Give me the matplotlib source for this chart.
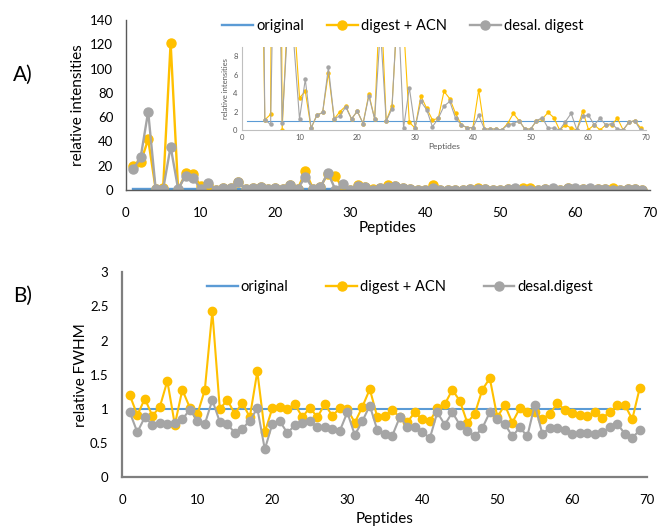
import matplotlib
matplotlib.use("Agg")
import matplotlib.pyplot as plt
import numpy as np

plt.rcParams["font.family"] = ["Lato", "DejaVu Sans"]

BLUE = "#5B9BD5"
YELLOW = "#FFC000"
GRAY = "#A5A5A5"

peptides = np.arange(1, 70)

# A) relative intensities
int_original = [1.0] * 69
int_acn = [20.0, 22.8, 41.7, 1.1, 1.7, 121.4, 0.0, 13.7, 12.9, 3.5,
           4.2, 0.2, 1.6, 1.9, 6.2, 1.2, 2.0, 2.6, 1.2, 2.05,
           0.7, 3.9, 1.2, 15.6, 1.0, 2.6, 13.5, 11.5, 0.84, 0.2,
           3.7, 2.35, 1.1, 1.25, 4.2, 3.4, 1.8, 0.55, 0.25, 0.25,
           4.35, 0.1, 0.1, 0.1, 0.0, 0.7, 1.8, 1.0, 0.1, 0.1,
           1.0, 1.2, 1.9, 1.35, 0.0, 0.55, 0.2, 0.0, 2.05, 0.05,
           0.55, 0.0, 0.55, 0.55, 1.27, 0.0, 0.85, 1.0, 0.25]
int_desal = [17.0, 26.9, 64.5, 1.1, 0.6, 35.7, 0.8, 11.8, 9.6, 1.2,
             5.5, 0.2, 1.6, 1.9, 6.8, 1.2, 1.55, 2.5, 1.2, 2.05,
             0.7, 3.7, 1.2, 11.0, 0.95, 2.3, 14.3, 0.2, 4.6, 0.25,
             3.1, 2.2, 0.35, 1.25, 2.6, 3.1, 1.27, 0.55, 0.25, 0.25,
             1.6, 0.1, 0.1, 0.1, 0.0, 0.55, 0.7, 1.0, 0.1, 0.1,
             1.0, 1.35, 0.2, 0.2, 0.0, 0.9, 1.8, 0.0, 1.5, 1.6,
             0.55, 1.27, 0.55, 0.7, 0.1, 0.0, 0.85, 1.0, 0.0]

# B) relative FWHM
fwhm_original = [1.0] * 69
fwhm_acn = [1.20, 0.91, 1.15, 0.90, 1.03, 1.41, 0.77, 1.28, 1.02, 0.92,
            1.28, 2.43, 1.00, 1.13, 0.93, 1.09, 0.88, 1.55, 0.66, 1.01,
            1.03, 1.00, 1.07, 0.88, 1.02, 0.88, 1.07, 0.90, 1.01, 1.00,
            0.80, 1.03, 1.29, 0.88, 0.90, 0.98, 0.88, 0.81, 0.95, 0.85,
            0.82, 1.01, 1.07, 1.28, 1.12, 0.80, 0.93, 1.28, 1.45, 0.88,
            1.06, 0.80, 1.01, 0.95, 0.95, 0.85, 0.93, 1.08, 0.99, 0.94,
            0.91, 0.89, 0.95, 0.87, 0.95, 1.06, 1.06, 0.85, 1.31]
fwhm_desal = [0.95, 0.66, 0.88, 0.77, 0.79, 0.78, 0.79, 0.85, 0.99, 0.83,
              0.78, 1.13, 0.81, 0.78, 0.65, 0.71, 0.83, 1.01, 0.41, 0.78,
              0.82, 0.65, 0.76, 0.80, 0.82, 0.73, 0.73, 0.71, 0.68, 0.95,
              0.62, 0.82, 1.05, 0.69, 0.64, 0.61, 0.88, 0.74, 0.73, 0.67,
              0.57, 0.95, 0.77, 0.95, 0.77, 0.68, 0.60, 0.72, 0.95, 0.86,
              0.78, 0.60, 0.73, 0.60, 1.06, 0.64, 0.72, 0.72, 0.69, 0.63,
              0.65, 0.65, 0.63, 0.66, 0.73, 0.78, 0.64, 0.58, 0.69]


def style_axes(ax, spine_color, spine_width):
    for side in ("top", "right"):
        ax.spines[side].set_visible(False)
    for side in ("left", "bottom"):
        ax.spines[side].set_color(spine_color)
        ax.spines[side].set_linewidth(spine_width)
    ax.tick_params(length=0)


def draw_series(ax, orig, acn, desal, lw, ms):
    ax.plot(peptides, orig, color=BLUE, linewidth=lw, label="original")
    ax.plot(peptides, acn, color=YELLOW, linewidth=lw, marker="o",
            markersize=ms, label="digest + ACN")
    ax.plot(peptides, desal, color=GRAY, linewidth=lw, marker="o",
            markersize=ms, label="desal. digest")


fig = plt.figure(figsize=(6.57, 5.26), dpi=100)

# panel A
ax_a = fig.add_axes([0.1913, 0.6388, 0.798, 0.3232])
draw_series(ax_a, int_original, int_acn, int_desal, 1.7, 6.5)
ax_a.set_xlim(0, 70)
ax_a.set_ylim(0, 140)
ax_a.set_xticks(range(0, 71, 10))
ax_a.set_yticks(range(0, 141, 20))
ax_a.tick_params(labelsize=9.5)
ax_a.tick_params(axis="x", pad=12)
ax_a.tick_params(axis="y", pad=9)
style_axes(ax_a, "#595959", 1.0)
ax_a.set_xlabel("Peptides", fontsize=11, labelpad=2)
ax_a.set_ylabel("relative intensities", fontsize=11, labelpad=4)
handles, labels = ax_a.get_legend_handles_labels()
fig.legend(handles, ["original", "digest + ACN", "desal. digest"],
           loc="center", bbox_to_anchor=(0.613, 0.950), ncol=3,
           frameon=False, fontsize=10.5, handlelength=2.1,
           handletextpad=0.2, columnspacing=1.6)

# inset zoom of low intensities
ax_in = fig.add_axes([0.3679, 0.7529, 0.6158, 0.1574])
draw_series(ax_in, int_original, int_acn, int_desal, 0.8, 2.2)
ax_in.set_xlim(0, 70)
ax_in.set_ylim(0, 9)
ax_in.set_xticks(range(0, 71, 10))
ax_in.set_yticks(range(0, 9, 2))
ax_in.tick_params(labelsize=5.5, pad=3, colors="#595959")
style_axes(ax_in, "#BFBFBF", 0.8)
ax_in.set_xlabel("Peptides", fontsize=6, labelpad=1, color="#595959")
ax_in.set_ylabel("relative intensities", fontsize=5.5, labelpad=3,
                 color="#595959")

# panel B
ax_b = fig.add_axes([0.1862, 0.0926, 0.799, 0.3897])
draw_series(ax_b, fwhm_original, fwhm_acn, fwhm_desal, 1.5, 6.0)
ax_b.set_xlim(0, 70)
ax_b.set_ylim(0, 3)
ax_b.set_xticks(range(0, 71, 10))
ax_b.set_yticks(np.arange(0, 3.01, 0.5))
ax_b.set_yticklabels(["0", "0.5", "1", "1.5", "2", "2.5", "3"])
ax_b.tick_params(labelsize=9.5)
ax_b.tick_params(axis="x", pad=12)
ax_b.tick_params(axis="y", pad=10)
style_axes(ax_b, "#7F7F7F", 1.6)
ax_b.set_xlabel("Peptides", fontsize=11, labelpad=4)
ax_b.set_ylabel("relative FWHM", fontsize=11, labelpad=1)
fig.legend(handles, ["original", "digest + ACN", "desal.digest"],
           loc="center", bbox_to_anchor=(0.609, 0.4544), ncol=3,
           frameon=False, fontsize=10.5, handlelength=2.1,
           handletextpad=0.2, columnspacing=2.6)

fig.text(0.020, 0.857, "A)", fontsize=15, va="center")
fig.text(0.020, 0.437, "B)", fontsize=15, va="center")

fig.savefig("out.png", dpi=100)
plt.close(fig)
